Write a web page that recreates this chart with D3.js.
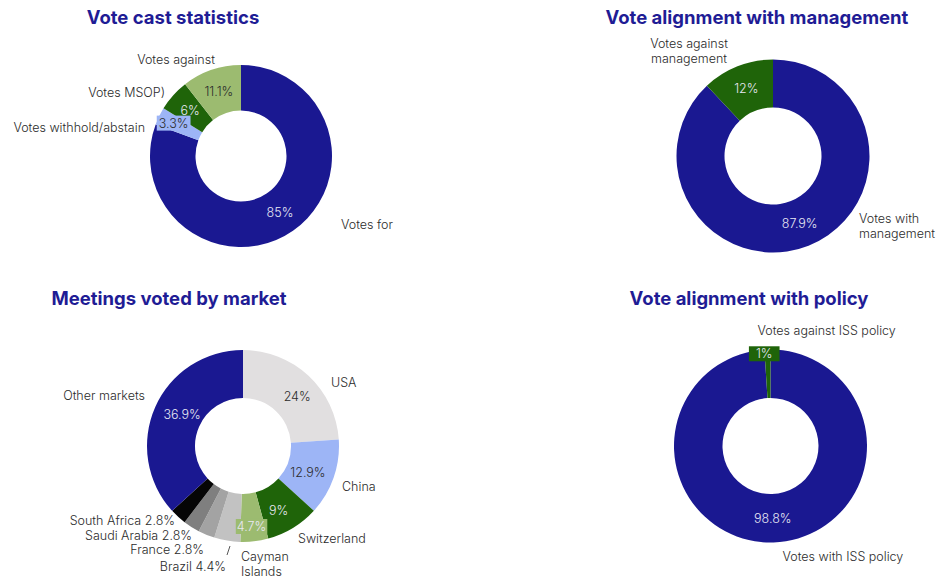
<!DOCTYPE html>
<html>
<head>
<meta charset="utf-8">
<script src="https://cdn.jsdelivr.net/npm/d3@7"></script>
<style>
  body { margin: 0; background: #fff; }
  svg { display: block; }
</style>
</head>
<body>
<div id="viz"></div>
<script>
// data
const castLabels = ["Votes for", "Votes withhold/abstain", "Votes MSOP)", "Votes against"];
const castValues = [85, 3.3, 6, 11.1];

const mgmtLabels = [["Votes with", "management"], ["Votes against", "management"]];
const mgmtValues = [87.9, 12];

const marketLabels = ["USA", "China", "Switzerland", ["Cayman", "Islands"], "Brazil",
  "France", "Saudi Arabia", "South Africa", "Other markets"];
const marketValues = [24, 12.9, 9, 4.7, 4.4, 2.8, 2.8, 2.8, 36.9];

const policyLabels = ["Votes with ISS policy", "Votes against ISS policy"];
const policyValues = [98.8, 1];

const colors = {
  blue: "#1a1891",
  lightGreen: "#9cbb70",
  darkGreen: "#1f6409",
  lightBlue: "#9db5f6",
  lightGrey: "#e1dfe0",
  grey1: "#c2c2c2",
  grey2: "#a3a3a3",
  grey3: "#7f7f7f",
  black: "#050505",
};

const config = {
  width: 940,
  height: 580,
  titleColor: "#1f1c95",
  titleSize: 18.5,
  labelSize: 12.5,
  labelWeight: 300,
  labelColor: "#2b2b2b",
  lightText: "#e8e8f4",
  lineHeight: 15,
  font: "Inter, 'Noto Sans', sans-serif",
};

// label layout per chart: outer label offset from centre + anchor,
// inner label nudge [dx, dy, box padding]
const charts = [
  {
    title: "Vote cast statistics", titleX: 173, titleY: 17,
    cx: 241, cy: 156, outer: 91, inner: 45.5,
    labels: castLabels, values: castValues,
    fills: [colors.blue, colors.lightBlue, colors.darkGreen, colors.lightGreen],
    textFills: [config.lightText, config.labelColor, config.lightText, config.labelColor],
    outerPos: [[100, 68, "start"], [-96, -29, "end"], [-76, -64, "end"], [-65, -97, "middle"]],
    innerNudge: [[0, 0], [-6, -3, 2], [0, 0], [0, 0]],
  },
  {
    title: "Vote alignment with management", titleX: 757, titleY: 17,
    cx: 773, cy: 156, outer: 96.5, inner: 48.5,
    labels: mgmtLabels, values: mgmtValues,
    fills: [colors.blue, colors.darkGreen],
    textFills: [config.lightText, config.lightText],
    outerPos: [[86, 62, "start"], [-84, -113, "middle"]],
    innerNudge: [[0, 0], [0, 0]],
  },
  {
    title: "Meetings voted by market", titleX: 169, titleY: 298,
    cx: 243, cy: 446, outer: 96, inner: 48,
    labels: marketLabels, values: marketValues,
    fills: [colors.lightGrey, colors.lightBlue, colors.darkGreen, colors.lightGreen,
      colors.grey1, colors.grey2, colors.grey3, colors.black, colors.blue],
    textFills: [config.labelColor, config.labelColor, config.lightText, config.lightText,
      null, null, null, null, config.lightText],
    outerPos: [[88, -64, "start"], [99, 40, "start"], [55, 92, "start"], [-2, 110, "start"],
      [-17, 120, "end"], [-39, 103, "end"], [-51, 89, "end"], [-68, 74, "end"], [-98, -51, "end"]],
    innerNudge: [[5, 3], [-3, 3], [-2, 3], [0, 9, 1], null, null, null, null, [5, -2]],
    leader: { x1: -16, y1: 109, x2: -13, y2: 100 },
  },
  {
    title: "Vote alignment with policy", titleX: 749, titleY: 298,
    cx: 770.5, cy: 446, outer: 96.5, inner: 48,
    labels: policyLabels, values: policyValues,
    fills: [colors.blue, colors.darkGreen],
    textFills: [config.lightText, config.lightText],
    outerPos: [[12, 110, "start"], [-13, -116, "start"]],
    innerNudge: [[0, 0], [-4, -20, 7]],
  },
];

const svg = d3
  .select("#viz")
  .append("svg")
  .attr("width", config.width)
  .attr("height", config.height)
  .attr("font-family", config.font);

const fmt = (v) => `${v}%`;

const drawDonut = (c) => {
  svg
    .append("text")
    .attr("x", c.titleX)
    .attr("y", c.titleY)
    .attr("text-anchor", "middle")
    .attr("dominant-baseline", "central")
    .attr("font-size", config.titleSize)
    .attr("font-weight", 700)
    .attr("fill", config.titleColor)
    .text(c.title);

  const g = svg.append("g").attr("transform", `translate(${c.cx},${c.cy})`);

  const pie = d3.pie().sort(null).value((d) => d);
  const arcs = pie(c.values);
  const arc = d3.arc().innerRadius(c.inner).outerRadius(c.outer);

  g.selectAll("path")
    .data(arcs)
    .join("path")
    .attr("d", arc)
    .attr("fill", (d, i) => c.fills[i]);

  // inner percentage labels
  arcs.forEach((d, i) => {
    const nudge = c.innerNudge[i];
    if (!nudge) return;
    const [x, y] = arc.centroid(d);
    const txt = g
      .append("text")
      .attr("x", x + nudge[0])
      .attr("y", y + nudge[1])
      .attr("text-anchor", "middle")
      .attr("dominant-baseline", "central")
      .attr("font-size", config.labelSize)
      .attr("font-weight", config.labelWeight)
      .attr("fill", c.textFills[i])
      .text(fmt(c.values[i]));
    if (nudge[2]) {
      const bb = txt.node().getBBox();
      g.insert("rect", () => txt.node())
        .attr("x", bb.x - nudge[2])
        .attr("y", bb.y)
        .attr("width", bb.width + 2 * nudge[2])
        .attr("height", bb.height)
        .attr("fill", c.fills[i]);
    }
  });

  // outer category labels
  c.labels.forEach((label, i) => {
    const [dx, dy, anchor] = c.outerPos[i];
    let lines = Array.isArray(label) ? label : [label];
    if (!c.innerNudge[i]) lines = [`${lines[0]} ${fmt(c.values[i])}`];
    const t = g
      .append("text")
      .attr("text-anchor", anchor)
      .attr("font-size", config.labelSize)
      .attr("font-weight", config.labelWeight)
      .attr("fill", config.labelColor);
    lines.forEach((line, j) => {
      t.append("tspan")
        .attr("x", dx)
        .attr("y", dy + j * config.lineHeight)
        .attr("dominant-baseline", "central")
        .text(line);
    });
  });

  if (c.leader) {
    g.append("line")
      .attr("x1", c.leader.x1)
      .attr("y1", c.leader.y1)
      .attr("x2", c.leader.x2)
      .attr("y2", c.leader.y2)
      .attr("stroke", config.labelColor)
      .attr("stroke-width", 0.8);
  }
};

charts.forEach(drawDonut);
</script>
</body>
</html>
